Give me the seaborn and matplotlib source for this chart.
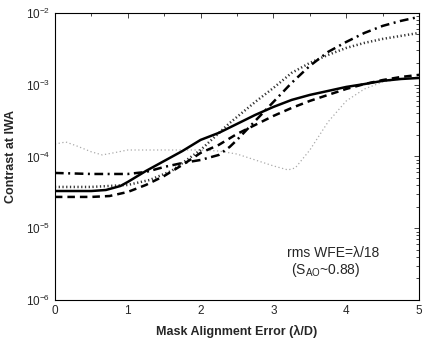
import matplotlib
matplotlib.use('Agg')
import matplotlib.pyplot as plt
import matplotlib.ticker as mticker
import seaborn as sns
import numpy as np

# Values (contrast at IWA vs misalignment)
x_solid = [0, 0.5, 0.7, 0.9, 1.0, 1.25, 1.5, 1.75, 2.0, 2.25, 2.5, 2.75, 3.0, 3.25, 3.5, 3.75, 4.0, 4.25, 4.5, 4.75, 5.0]
y_solid = [3.30e-5, 3.30e-5, 3.41e-5, 3.88e-5, 4.41e-5, 6.28e-5, 8.65e-5, 1.19e-4, 1.70e-4, 2.13e-4, 2.84e-4,
           3.79e-4, 4.90e-4, 6.13e-4, 7.20e-4, 8.18e-4, 9.30e-4, 1.02e-3, 1.13e-3, 1.20e-3, 1.24e-3]

x_dash = [0, 0.5, 0.75, 1.0, 1.25, 1.5, 1.75, 2.0, 2.25, 2.5, 2.75, 3.0, 3.25, 3.5, 3.75, 4.0, 4.25, 4.5, 4.75, 5.0]
y_dash = [2.73e-5, 2.73e-5, 2.81e-5, 3.20e-5, 4.01e-5, 5.35e-5, 7.62e-5, 1.12e-4, 1.45e-4, 2.06e-4, 2.75e-4,
          3.67e-4, 4.74e-4, 5.94e-4, 7.20e-4, 8.72e-4, 1.02e-3, 1.16e-3, 1.28e-3, 1.37e-3]

x_dashdot = [0, 0.5, 1.0, 1.25, 1.5, 1.75, 2.0, 2.25, 2.4, 2.5, 2.75, 3.0, 3.25, 3.5, 3.75, 4.0, 4.25, 4.5, 4.75, 5.0]
y_dashdot = [5.89e-5, 5.70e-5, 5.70e-5, 6.08e-5, 7.14e-5, 8.11e-5, 8.93e-5, 1.05e-4, 1.36e-4, 1.70e-4, 3.13e-4,
             5.75e-4, 1.06e-3, 1.83e-3, 2.86e-3, 3.94e-3, 5.26e-3, 6.59e-3, 7.74e-3, 8.80e-3]

x_dot = [0, 0.5, 1.0, 1.3, 1.6, 2.0, 2.4, 2.75, 3.0, 3.25, 3.5, 3.75, 4.0, 4.25, 4.5, 4.75, 5.0]
y_dot = [3.76e-5, 3.76e-5, 4.01e-5, 4.70e-5, 6.28e-5, 1.23e-4, 2.93e-4, 5.75e-4, 9.01e-4, 1.46e-3, 2.01e-3,
         2.60e-3, 3.25e-3, 3.82e-3, 4.34e-3, 4.78e-3, 5.26e-3]

x_thin = [0, 0.15, 0.3, 0.5, 0.65, 0.8, 1.0, 1.5, 2.0, 2.25, 2.5, 2.75, 3.0, 3.2, 3.3, 3.5, 3.75, 4.0, 4.25, 4.5, 4.75, 5.0]
y_thin = [1.49e-4, 1.59e-4, 1.40e-4, 1.16e-4, 1.05e-4, 1.12e-4, 1.23e-4, 1.23e-4, 1.23e-4, 1.19e-4, 1.08e-4,
          8.93e-5, 7.38e-5, 6.49e-5, 6.92e-5, 1.23e-4, 3.03e-4, 5.94e-4, 8.72e-4, 1.09e-3, 1.20e-3, 1.28e-3]

sns.set_style('white')
plt.rcParams['font.family'] = ['Liberation Sans', 'DejaVu Sans']
plt.rcParams['mathtext.fontset'] = 'custom'
plt.rcParams['mathtext.rm'] = 'Liberation Sans'
plt.rcParams['mathtext.it'] = 'Liberation Sans:italic'

fig = plt.figure(figsize=(4.29, 3.39), dpi=100)
ax = fig.add_axes([0.128, 0.115, 0.849, 0.847])

sns.lineplot(x=x_thin, y=y_thin, ax=ax, color='#aaaaaa', lw=0.9, linestyle=(0, (1, 2)))
sns.lineplot(x=x_dot, y=y_dot, ax=ax, color='#333333', lw=1.8, linestyle=(0, (0.5, 1.0)))
sns.lineplot(x=x_dashdot, y=y_dashdot, ax=ax, color='black', lw=1.8, linestyle=(0, (3.5, 1.8, 0.8, 1.8)))
sns.lineplot(x=x_dash, y=y_dash, ax=ax, color='black', lw=1.8, linestyle=(0, (3, 2)))
sns.lineplot(x=x_solid, y=y_solid, ax=ax, color='black', lw=1.8)

ax.set_yscale('log')
ax.set_xlim(0, 5)
ax.set_ylim(1e-6, 1e-2)
ax.xaxis.set_major_locator(mticker.MultipleLocator(1))
ax.xaxis.set_minor_locator(mticker.MultipleLocator(0.5))
ax.yaxis.set_major_locator(mticker.LogLocator(base=10, numticks=10))
ax.yaxis.set_minor_locator(mticker.LogLocator(base=10, subs=np.arange(2, 10), numticks=10))
ax.yaxis.set_minor_formatter(mticker.NullFormatter())
ax.tick_params(which='both', direction='in', top=True, right=True, labelsize=8.5, width=0.6)
ax.tick_params(which='major', length=3.5)
ax.tick_params(which='minor', length=2)
for s in ax.spines.values():
    s.set_linewidth(0.8)
    s.set_color('black')

ax.set_xlabel('Mask Alignment Error (λ/D)', fontsize=9, fontweight='bold', labelpad=6)
ax.set_ylabel('Contrast at IWA', fontsize=9, fontweight='bold', labelpad=6)

ax.text(3.82, 4.5e-6, 'rms WFE=λ/18', fontsize=10, ha='center', va='center')
ax.text(3.72, 2.65e-6, r'(S$_{\mathrm{AO}}$~0.88)', fontsize=10, ha='center', va='center')

fig.savefig('out.png', dpi=100)
